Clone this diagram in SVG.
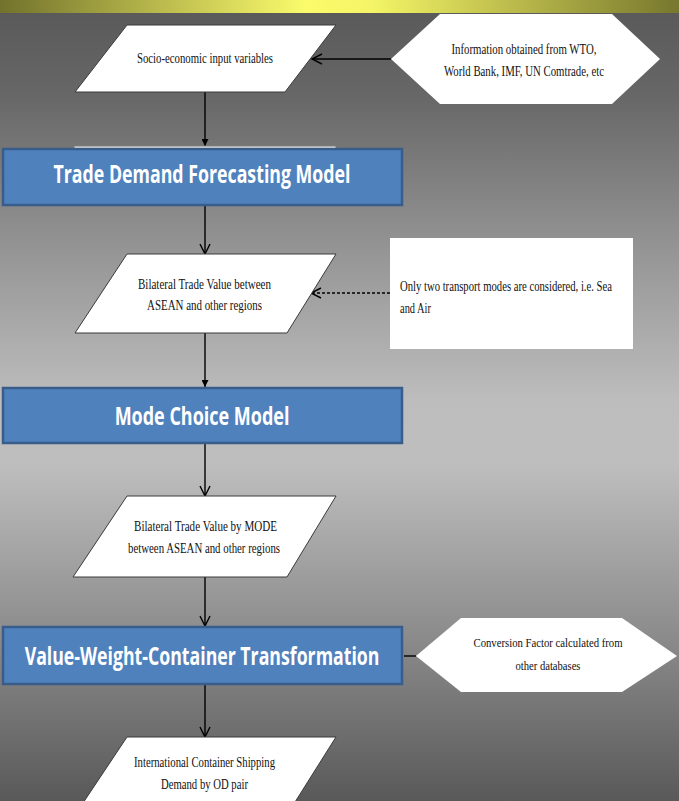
<svg xmlns="http://www.w3.org/2000/svg" width="679" height="801" viewBox="0 0 679 801">
<defs>
<linearGradient id="bg" x1="0" y1="0" x2="0" y2="1">
<stop offset="0" stop-color="#585858"/>
<stop offset="0.12" stop-color="#676767"/>
<stop offset="0.3" stop-color="#929292"/>
<stop offset="0.5" stop-color="#bdbdbd"/>
<stop offset="0.58" stop-color="#bebebe"/>
<stop offset="0.8" stop-color="#8a8a8a"/>
<stop offset="1" stop-color="#595959"/>
</linearGradient>
<linearGradient id="bar" x1="0" y1="0" x2="1" y2="0">
<stop offset="0" stop-color="#72722c"/>
<stop offset="0.45" stop-color="#fbfb6c"/>
<stop offset="0.55" stop-color="#f4f466"/>
<stop offset="1" stop-color="#77772e"/>
</linearGradient>
<marker id="open" viewBox="0 0 12 12" refX="11" refY="6" markerWidth="12" markerHeight="12" markerUnits="userSpaceOnUse" orient="auto">
<path d="M1,1 L11,6 L1,11" fill="none" stroke="#000" stroke-width="1.4"/>
</marker>
<marker id="solid" viewBox="0 0 8 8" refX="8" refY="4" markerWidth="7" markerHeight="7" markerUnits="userSpaceOnUse" orient="auto">
<path d="M0,0 L8,4 L0,8 Z" fill="#000"/>
</marker>
</defs>
<style>
.para{fill:#fff;stroke:#3a3a3a;stroke-width:1}
.white{fill:#fff;stroke:none}
.blue{fill:#4f81bd;stroke:#385d8a;stroke-width:2.5}
.st{font-family:"Liberation Serif","Times New Roman",serif;font-size:14px;fill:#111}
.sm{font-size:12px}
.bt{font-family:"Open Sans","Liberation Sans",sans-serif;font-weight:700;font-size:25px;fill:#fff}
.conn{stroke:#000;stroke-width:1.4;fill:none}
</style>
<rect x="0" y="0" width="679" height="801" fill="url(#bg)"/>
<rect x="0" y="0" width="679" height="13" fill="url(#bar)"/>

<g id="connectors">
<line class="conn" x1="391" y1="59" x2="312" y2="59" marker-end="url(#open)"/>
<line class="conn" x1="205" y1="92" x2="205" y2="146" marker-end="url(#solid)"/>
<line class="conn" x1="205" y1="206" x2="205" y2="254" marker-end="url(#open)"/>
<line class="conn" x1="390" y1="293" x2="311" y2="293" stroke-dasharray="3,2" marker-end="url(#open)"/>
<line class="conn" x1="205" y1="333" x2="205" y2="387" marker-end="url(#solid)"/>
<line class="conn" x1="205" y1="444" x2="205" y2="496" marker-end="url(#open)"/>
<line class="conn" x1="205" y1="577" x2="205" y2="626" marker-end="url(#open)"/>
<line class="conn" x1="404" y1="656" x2="416" y2="656"/>
<line class="conn" x1="205" y1="685" x2="205" y2="737" marker-end="url(#open)"/>
</g>

<g id="n-socio">
<polygon class="para" points="127,25 336,25 285,92 75,92"/>
<text class="st" x="205" y="63" text-anchor="middle" textLength="136" lengthAdjust="spacingAndGlyphs">Socio-economic input variables</text>
</g>

<g id="n-info">
<polygon class="white" points="391,59 440,14 612,14 660,59 612,104 440,104"/>
<text class="st" x="524" y="54" text-anchor="middle" textLength="145" lengthAdjust="spacingAndGlyphs">Information obtained from WTO,</text>
<text class="st" x="524" y="76" text-anchor="middle" textLength="160" lengthAdjust="spacingAndGlyphs">World Bank, IMF, UN Comtrade, etc</text>
</g>

<g id="n-tdfm">
<rect x="74" y="146" width="262" height="30" fill="#e6e6e6" stroke="#7a7a7a" stroke-width="1"/>
<rect class="blue" x="3" y="149" width="399" height="56"/>
<text class="bt" transform="translate(202,183) scale(0.75,1)" x="0" y="0" text-anchor="middle" textLength="396" lengthAdjust="spacingAndGlyphs">Trade Demand Forecasting Model</text>
</g>

<g id="n-btv">
<polygon class="para" points="127,254 336,254 287,333 75,333"/>
<text class="st" x="204.5" y="289" text-anchor="middle" textLength="133" lengthAdjust="spacingAndGlyphs">Bilateral Trade Value between</text>
<text class="st" x="204.5" y="310" text-anchor="middle" textLength="115" lengthAdjust="spacingAndGlyphs">ASEAN and other regions</text>
</g>

<g id="n-note">
<rect class="white" x="390" y="238" width="243" height="111"/>
<text class="st" x="400" y="291" textLength="212" lengthAdjust="spacingAndGlyphs">Only two transport modes are considered, i.e. Sea</text>
<text class="st" x="400" y="313" textLength="31" lengthAdjust="spacingAndGlyphs">and Air</text>
</g>

<g id="n-mcm">
<rect class="blue" x="3" y="388" width="399" height="55"/>
<text class="bt" transform="translate(202,425) scale(0.75,1)" x="0" y="0" text-anchor="middle" textLength="233" lengthAdjust="spacingAndGlyphs">Mode Choice Model</text>
</g>

<g id="n-btvm">
<polygon class="para" points="127,496 336,496 287,577 73,577"/>
<text class="st" x="205.5" y="531" text-anchor="middle" textLength="143" lengthAdjust="spacingAndGlyphs">Bilateral Trade Value by MODE</text>
<text class="st" x="204" y="553" text-anchor="middle" textLength="152" lengthAdjust="spacingAndGlyphs">between ASEAN and other regions</text>
</g>

<g id="n-vwct">
<rect class="blue" x="3" y="627" width="399" height="57"/>
<text class="bt" transform="translate(202,665) scale(0.75,1)" x="0" y="0" text-anchor="middle" textLength="473" lengthAdjust="spacingAndGlyphs">Value-Weight-Container Transformation</text>
</g>

<g id="n-conv">
<polygon class="white" points="416,656 461,618 622,618 677,656 622,692 461,692"/>
<text class="st sm" x="548" y="647" text-anchor="middle" textLength="149" lengthAdjust="spacingAndGlyphs">Conversion Factor calculated from</text>
<text class="st sm" x="548" y="670" text-anchor="middle" textLength="65" lengthAdjust="spacingAndGlyphs">other databases</text>
</g>

<g id="n-icsd">
<polygon class="para" points="127,737 336,737 285,818 73,818"/>
<text class="st" x="204.5" y="767" text-anchor="middle" textLength="141" lengthAdjust="spacingAndGlyphs">International Container Shipping</text>
<text class="st" x="204.5" y="789" text-anchor="middle" textLength="87" lengthAdjust="spacingAndGlyphs">Demand by OD pair</text>
</g>
</svg>
